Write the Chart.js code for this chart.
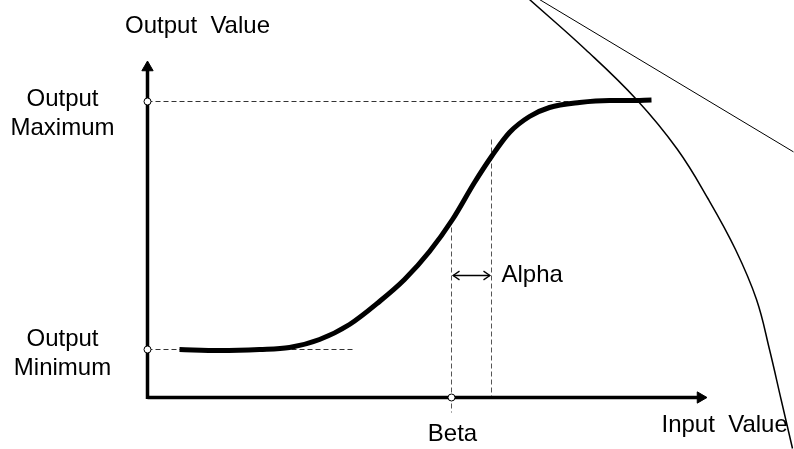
<!DOCTYPE html>
<html>
<head>
<meta charset="utf-8">
<script src="https://cdn.jsdelivr.net/npm/chart.js@4.4.1/dist/chart.umd.min.js"></script>
<style>
  html, body { margin: 0; padding: 0; background: #fff; overflow: hidden; }
  canvas { display: block; }
</style>
</head>
<body>
<canvas id="sigmoidChart" width="794" height="449"></canvas>
<script>
// Sigmoid response curve (input value -> output value)
const curveX = [8, 18, 28, 35.5, 43, 50.5, 58, 64.25, 70.5, 76.25, 81.75, 86, 90.5, 95.5, 100.5, 108, 115.5, 120.5, 126];
const curveY = [12, 11.75, 12, 12.5, 14.5, 18.25, 24, 29.5, 36.5, 44.5, 53.75, 60.25, 66.25, 70.25, 72.5, 73.75, 74.25, 74.25, 74.4];

// Large arc and straight ray on the right
const arcX = [95.5, 109.5, 122.25, 132.5, 140.25, 147, 152.25, 155.5, 158.4, 161.25];
const arcY = [99.5, 87, 74.5, 62, 49.5, 37, 24.5, 12, -0.5, -12.75];
const rayX = [98, 161.5];
const rayY = [99.5, 61.4];

// Key levels
const outputMin = 12;
const outputMax = 74;
const betaX = 76;
const alphaX = 86;
const alphaArrowY = 30.5;
const xAxisEnd = 138.25;
const yAxisEnd = 82.5;

const pts = (xs, ys) => xs.map((x, i) => ({ x: x, y: ys[i] }));

const lineBase = { showLine: true, pointRadius: 0, fill: false, borderCapStyle: 'butt' };
const dashed = Object.assign({}, lineBase, { borderColor: '#333', borderWidth: 1, borderDash: [5, 3] });

const labels = [
    { text: 'Output  Value', x: 12.5, y: 91.25, align: 'center' },
    { text: 'Output', x: -21.25, y: 73, align: 'center' },
    { text: 'Maximum', x: -21.25, y: 65.75, align: 'center' },
    { text: 'Output', x: -21.25, y: 13, align: 'center' },
    { text: 'Minimum', x: -21.25, y: 5.75, align: 'center' },
    { text: 'Alpha', x: 88.5, y: 29, align: 'left' },
    { text: 'Beta', x: 76.25, y: -10.75, align: 'center' },
    { text: 'Input  Value', x: 128.5, y: -8.5, align: 'left' }
];

// draws the texts at data positions
const textPlugin = {
    id: 'textLabels',
    afterDatasetsDraw(chart) {
        const c = chart.ctx;
        const sx = chart.scales.x, sy = chart.scales.y;
        c.save();
        c.fillStyle = '#000';
        c.font = '24px "Liberation Sans", Arial, sans-serif';
        c.textBaseline = 'alphabetic';
        labels.forEach(l => {
            c.textAlign = l.align;
            c.fillText(l.text, sx.getPixelForValue(l.x), sy.getPixelForValue(l.y));
        });
        c.restore();
    }
};

const headDx = 1.6, headDy = 1.1;

new Chart(document.getElementById('sigmoidChart').getContext('2d'), {
    type: 'scatter',
    data: {
        datasets: [
            // arc + ray
            Object.assign({}, lineBase, { data: pts(arcX, arcY), borderColor: '#000', borderWidth: 1.5, tension: 0.4, order: -1 }),
            Object.assign({}, lineBase, { data: pts(rayX, rayY), borderColor: '#000', borderWidth: 1, order: -1 }),
            // open circles
            {
                data: [{ x: 0, y: outputMax }, { x: 0, y: outputMin }, { x: betaX, y: 0 }],
                pointStyle: 'circle', pointRadius: 3.5, pointBackgroundColor: '#fff',
                pointBorderColor: '#000', pointBorderWidth: 1, showLine: false, order: 0
            },
            // curve
            Object.assign({}, lineBase, { data: pts(curveX, curveY), borderColor: '#000', borderWidth: 5, cubicInterpolationMode: 'monotone', order: 1 }),
            // axes
            Object.assign({}, lineBase, { data: [{ x: 0, y: 0 }, { x: xAxisEnd, y: 0 }], borderColor: '#000', borderWidth: 3.5, order: 2 }),
            Object.assign({}, lineBase, { data: [{ x: 0, y: -0.4 }, { x: 0, y: yAxisEnd }], borderColor: '#000', borderWidth: 3.5, order: 2 }),
            {
                data: [{ x: xAxisEnd, y: 0 }], pointStyle: 'triangle', rotation: 90, pointRadius: 6.5,
                pointBackgroundColor: '#000', pointBorderColor: '#000', pointBorderWidth: 1, showLine: false, order: 2
            },
            {
                data: [{ x: 0, y: yAxisEnd }], pointStyle: 'triangle', rotation: 0, pointRadius: 6.5,
                pointBackgroundColor: '#000', pointBorderColor: '#000', pointBorderWidth: 1, showLine: false, order: 2
            },
            // dashed guides
            Object.assign({}, dashed, { data: [{ x: 0, y: outputMax }, { x: 113, y: outputMax }], order: 3 }),
            Object.assign({}, dashed, { data: [{ x: 0, y: outputMin }, { x: 52, y: outputMin }], order: 3 }),
            Object.assign({}, dashed, { data: [{ x: betaX, y: 44.5 }, { x: betaX, y: -3.75 }], borderColor: '#555', order: 3 }),
            Object.assign({}, dashed, { data: [{ x: alphaX, y: 64.5 }, { x: alphaX, y: 0 }], borderColor: '#555', order: 3 }),
            // alpha double arrow
            Object.assign({}, lineBase, { data: [{ x: betaX + 0.4, y: alphaArrowY }, { x: alphaX - 0.4, y: alphaArrowY }], borderColor: '#000', borderWidth: 1.3, order: 1 }),
            Object.assign({}, lineBase, { data: [
                { x: betaX + 0.4 + headDx, y: alphaArrowY + headDy }, { x: betaX + 0.4, y: alphaArrowY }, { x: betaX + 0.4 + headDx, y: alphaArrowY - headDy }
            ], borderColor: '#000', borderWidth: 1.3, order: 1 }),
            Object.assign({}, lineBase, { data: [
                { x: alphaX - 0.4 - headDx, y: alphaArrowY + headDy }, { x: alphaX - 0.4, y: alphaArrowY }, { x: alphaX - 0.4 - headDx, y: alphaArrowY - headDy }
            ], borderColor: '#000', borderWidth: 1.3, order: 1 })
        ]
    },
    options: {
        responsive: false,
        animation: false,
        layout: { padding: 0, autoPadding: false },
        elements: { line: { capBezierPoints: false } },
        plugins: { legend: { display: false }, tooltip: { enabled: false } },
        scales: {
            // ranges picked so whole units fall on half pixels (crisp 1px dashes)
            x: { type: 'linear', min: -36.875, max: 161.625, display: false },
            y: { type: 'linear', min: -12.875, max: 99.375, display: false }
        }
    },
    plugins: [textPlugin]
});
</script>
</body>
</html>
